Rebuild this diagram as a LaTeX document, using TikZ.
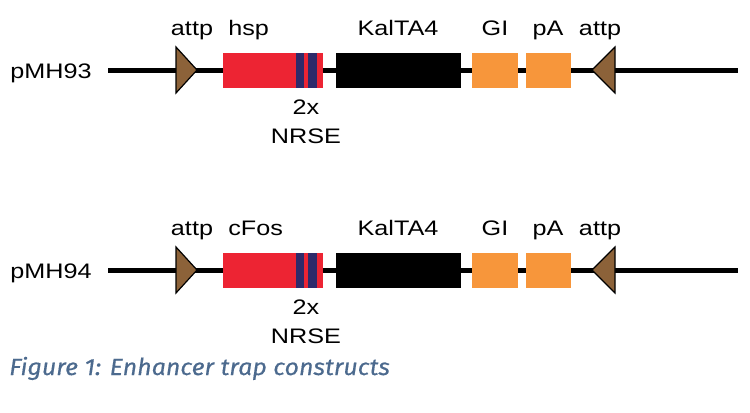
\documentclass[tikz,border=0pt]{standalone}
\usepackage{fontspec}
\setmainfont{Liberation Sans}
\newfontfamily\labelfont[FakeStretch=1.2]{Liberation Sans}
\newfontfamily\captionfont[FakeStretch=1.07,FakeBold=0.4]{Fira Sans}
\usetikzlibrary{positioning}
\definecolor{hspred}{HTML}{ED2433}
\definecolor{nrseblue}{HTML}{2E2A6A}
\definecolor{giorange}{HTML}{F7963B}
\definecolor{attpbrown}{HTML}{8C6239}
\definecolor{capblue}{HTML}{4C6A8E}
\tikzset{
    every node/.style={font=\labelfont\fontsize{15.75}{18}\selectfont},
    backbone/.style={draw=black,line width=3.75pt},
    part/.style={rectangle,inner sep=0pt,minimum height=26.25pt},
    stripe/.style={part,fill=nrseblue,minimum width=6.5pt},
    attp/.style={draw=black,fill=attpbrown,line width=0.9pt,line join=miter},
    tag/.style={anchor=base,inner sep=0pt},
    figcap/.style={anchor=base west,inner sep=0pt,text=capblue,
        font=\captionfont\itshape\fontsize{17.5}{20}\selectfont}
}
\begin{document}
\begin{tikzpicture}[x=0.75pt,y=-0.75pt]
\useasboundingbox (0,0) rectangle (750,412);
\foreach \y/\plasmid/\prom in {70/pMH93/hsp,270/pMH94/cFos}{
    % backbone
    \coordinate (\plasmid-start) at (108,\y);
    \coordinate (\plasmid-end) at (738,\y);
    \draw[backbone] (\plasmid-start) -- (\plasmid-end);
    \node[tag] (\plasmid-name) at (51,\y+8) {\plasmid};
    % attp sites
    \draw[attp] (176,\y-23) -- (197,\y) -- (176,\y+23) -- cycle;
    \draw[attp] (615,\y-23) -- (592,\y) -- (615,\y+23) -- cycle;
    % promoter, NRSE, KalTA4, GI, pA
    \node[part,fill=hspred,minimum width=75pt] (\plasmid-prom) at (273,\y) {};
    \node[stripe] (\plasmid-nrse1) at (300,\y) {};
    \node[stripe] (\plasmid-nrse2) at (312.5,\y) {};
    \node[part,fill=black,minimum width=93.75pt] (\plasmid-kal) at (398.5,\y) {};
    \node[part,fill=giorange,minimum width=34.5pt] (\plasmid-gi) at (495,\y) {};
    \node[part,fill=giorange,minimum width=33.75pt] (\plasmid-pa) at (548.5,\y) {};
    % labels
    \node[tag] at (192,\y-35) {attp};
    \node[tag,anchor=base west] at (228,\y-35) {\prom};
    \node[tag] at (398,\y-35) {KalTA4};
    \node[tag] at (495,\y-35) {GI};
    \node[tag] at (548,\y-35) {pA};
    \node[tag] at (600,\y-35) {attp};
    \node[tag] at (306,\y+44) {2x};
    \node[tag] at (306,\y+73) {NRSE};
}
\node[figcap] (caption) at (9,375) {Figure 1: Enhancer trap constructs};
\end{tikzpicture}
\end{document}
